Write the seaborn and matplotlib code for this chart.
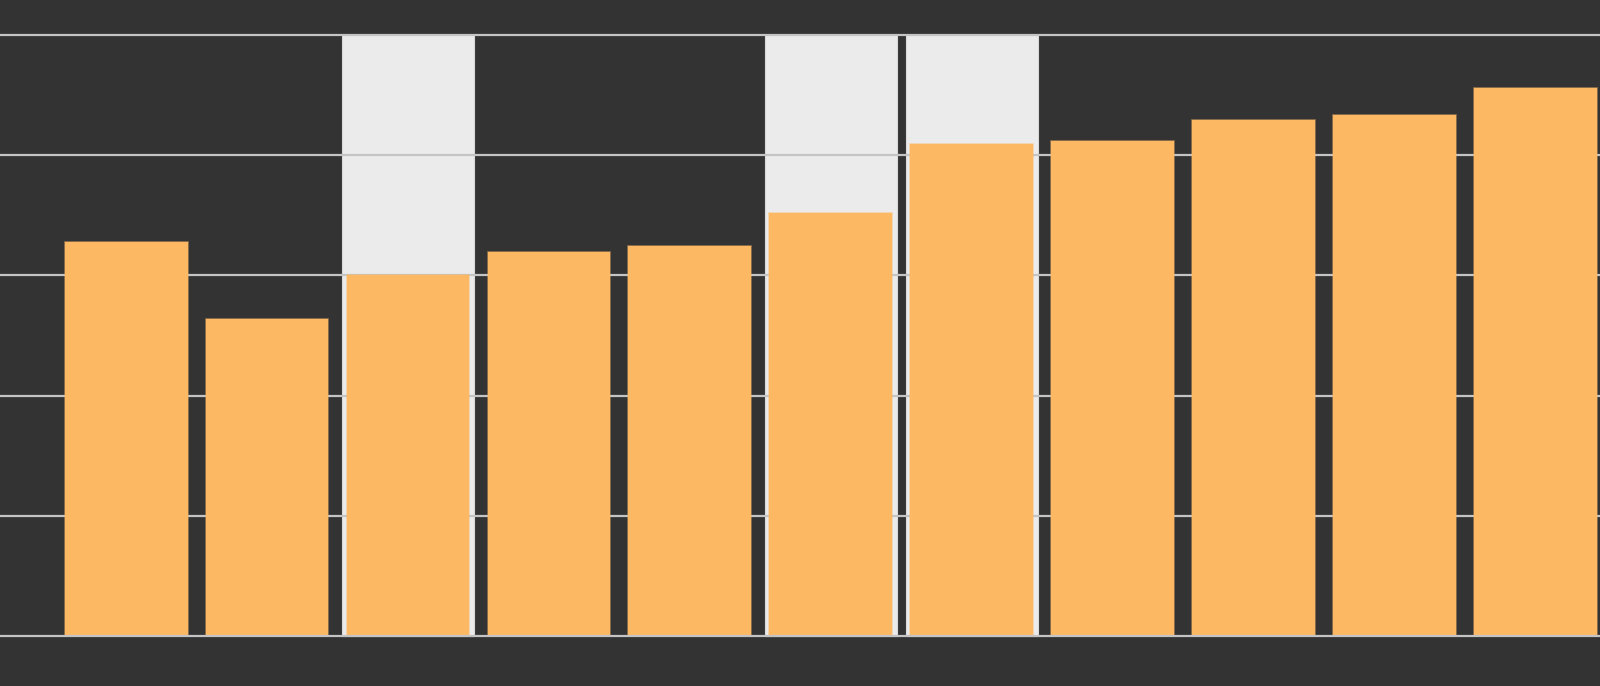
import numpy as np
import pandas as pd
import matplotlib
matplotlib.use('Agg')
import matplotlib.pyplot as plt
import seaborn as sns

# values (no labels shown in the reference)
categories = ['A', 'B', 'C', 'D', 'E', 'F', 'G', 'H', 'I', 'J', 'K']
values = [65.6, 52.7, 60.0, 63.9, 64.8, 70.3, 81.9, 82.3, 85.9, 86.7, 91.2]
highlighted = ['C', 'F', 'G']
grid_ticks = [0, 20, 40, 60, 80, 100]

bg = '#333333'
bar_color = '#fdb863'

sns.set_style('dark')
df = pd.DataFrame({'category': categories, 'value': values})

fig = plt.figure(figsize=(16, 6.86), dpi=100, facecolor=bg)
ax = fig.add_axes([0, 0, 1, 1])
ax.set_facecolor(bg)

# light background bands behind selected bars
for i, c in enumerate(categories):
    if c in highlighted:
        ax.bar(i, max(grid_ticks), width=0.936, color='#ebebeb',
               edgecolor='#d9d9d9', linewidth=0.8, zorder=0)

sns.barplot(data=df, x='category', y='value', color=bar_color, saturation=1,
            width=0.872, edgecolor=(0.99, 0.72, 0.39, 0.5), linewidth=1.2,
            zorder=2, ax=ax)

for t in grid_ticks:
    ax.axhline(t, color='#c4c4c4', lw=1.6, zorder=1 if t > 0 else 3)

ax.set_xlim(-0.894, 10.455)
ax.set_ylim(-8.33, 105.8)
ax.set_xticks([])
ax.set_yticks([])
ax.set_xlabel('')
ax.set_ylabel('')
for s in ax.spines.values():
    s.set_visible(False)

fig.savefig('out.png', dpi=100, facecolor=bg)
